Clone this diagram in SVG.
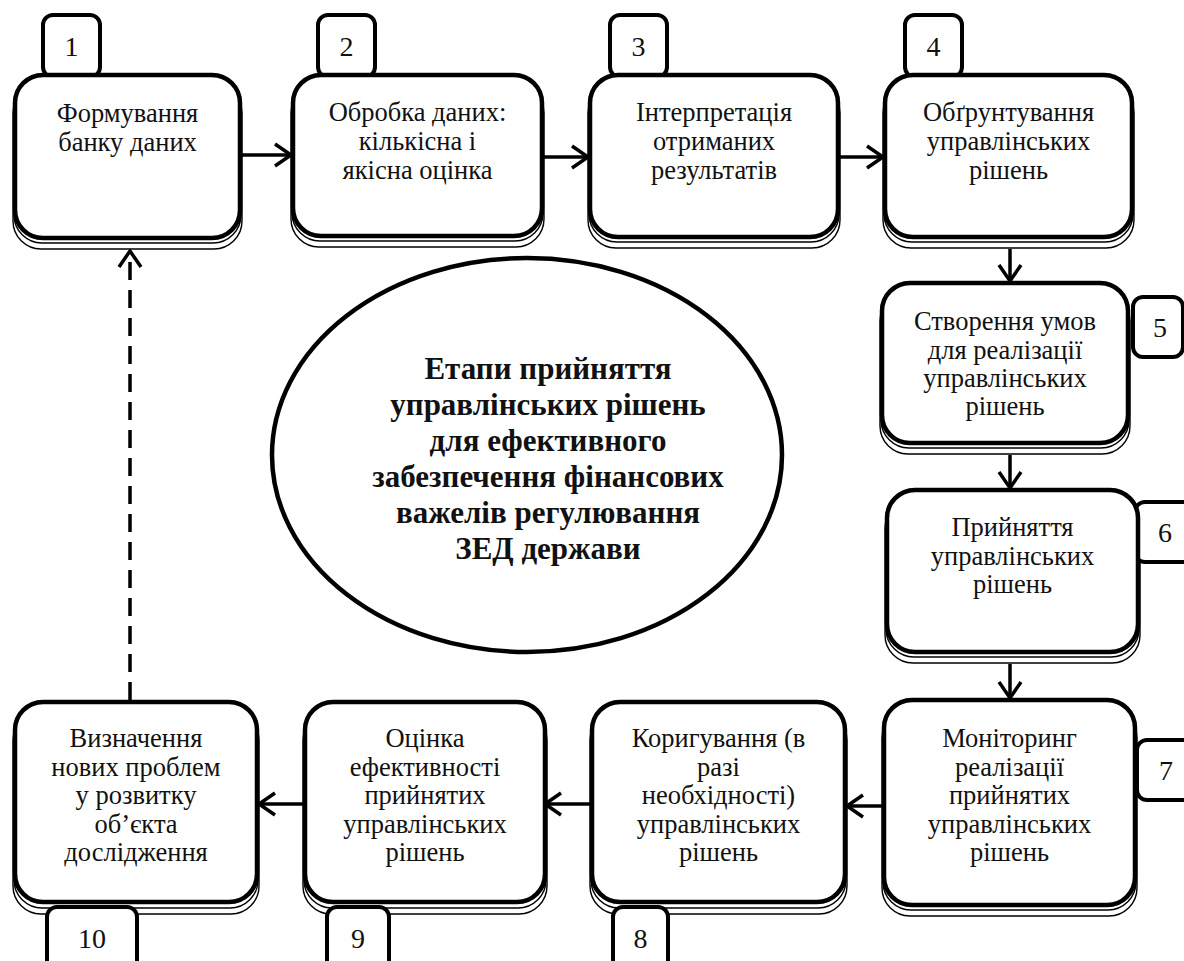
<svg xmlns="http://www.w3.org/2000/svg" width="1184" height="961" viewBox="0 0 1184 961">
  <style>
    .main { fill: #fff; stroke: #000; stroke-width: 4.5; }
    .back { fill: #fff; stroke: #000; stroke-width: 1.4; }
    .tab { fill: #fff; stroke: #000; stroke-width: 4; }
    text { font-family: 'Liberation Serif', 'Times New Roman', serif; fill: #111; text-anchor: middle; }
    .lbl { font-size: 26.5px; }
    .num { font-size: 28px; }
    .title { font-size: 31px; font-weight: bold; }
    .link { fill: none; stroke: #000; stroke-width: 3.5; }
    .dash { stroke-dasharray: 18 10; }
  </style>
  <defs>
    <marker id="chev" markerUnits="userSpaceOnUse" markerWidth="30" markerHeight="30" viewBox="-20 -15 24 30" refX="0" refY="0" orient="auto" overflow="visible">
      <path d="M-16,-11 L0,0 L-16,11" fill="none" stroke="#000" stroke-width="3.5" stroke-linejoin="miter"/>
    </marker>
  </defs>
  <rect width="1184" height="961" fill="#fff"/>

  <!-- central ellipse -->
  <g id="center">
    <ellipse cx="527" cy="455" rx="255" ry="197" fill="#fff" stroke="#000" stroke-width="4.5"/>
    <text class="title" x="548" y="379">Етапи прийняття</text>
    <text class="title" x="548" y="415">управлінських рішень</text>
    <text class="title" x="548" y="451">для ефективного</text>
    <text class="title" x="548" y="487">забезпечення фінансових</text>
    <text class="title" x="548" y="523">важелів регулювання</text>
    <text class="title" x="548" y="559">ЗЕД держави</text>
  </g>

  <!-- connectors -->
  <g id="connectors">
    <path class="link" d="M242,155 L291,155" marker-end="url(#chev)"/>
    <path class="link" d="M544,157 L588,157" marker-end="url(#chev)"/>
    <path class="link" d="M840,157 L883,157" marker-end="url(#chev)"/>
    <path class="link" d="M1010,249 L1010,281" marker-end="url(#chev)"/>
    <path class="link" d="M1010,455 L1010,488" marker-end="url(#chev)"/>
    <path class="link" d="M1010,664 L1010,698" marker-end="url(#chev)"/>
    <path class="link" d="M884,806 L847,806" marker-end="url(#chev)"/>
    <path class="link" d="M592,804 L545,804" marker-end="url(#chev)"/>
    <path class="link" d="M305,804 L259,804" marker-end="url(#chev)"/>
    <path class="link dash" d="M130,700 L130,251" marker-end="url(#chev)"/>
  </g>

  <!-- stage 1 -->
  <g id="n1">
    <rect class="back" x="13" y="85" width="229" height="164" rx="28"/>
    <rect class="back" x="14" y="80" width="227" height="163" rx="28"/>
    <rect class="tab" x="43" y="15" width="57" height="62" rx="10"/>
    <rect class="main" x="15" y="75" width="225" height="163" rx="28"/>
    <text class="num" x="71.5" y="56">1</text>
    <text class="lbl" x="127.5" y="122">Формування</text>
    <text class="lbl" x="127.5" y="151">банку даних</text>
  </g>

  <!-- stage 2 -->
  <g id="n2">
    <rect class="back" x="291" y="85" width="253" height="162" rx="28"/>
    <rect class="back" x="292" y="80" width="251" height="161" rx="28"/>
    <rect class="tab" x="318" y="15" width="57" height="62" rx="10"/>
    <rect class="main" x="293" y="75" width="249" height="161" rx="28"/>
    <text class="num" x="346.5" y="56">2</text>
    <text class="lbl" x="417.5" y="121">Обробка даних:</text>
    <text class="lbl" x="417.5" y="150">кількісна і</text>
    <text class="lbl" x="417.5" y="179">якісна оцінка</text>
  </g>

  <!-- stage 3 -->
  <g id="n3">
    <rect class="back" x="588" y="85" width="252" height="163" rx="28"/>
    <rect class="back" x="589" y="80" width="250" height="162" rx="28"/>
    <rect class="tab" x="610" y="15" width="57" height="62" rx="10"/>
    <rect class="main" x="590" y="75" width="248" height="162" rx="28"/>
    <text class="num" x="638.5" y="56">3</text>
    <text class="lbl" x="714" y="121">Інтерпретація</text>
    <text class="lbl" x="714" y="150">отриманих</text>
    <text class="lbl" x="714" y="179">результатів</text>
  </g>

  <!-- stage 4 -->
  <g id="n4">
    <rect class="back" x="883" y="85" width="251" height="163" rx="28"/>
    <rect class="back" x="884" y="80" width="249" height="162" rx="28"/>
    <rect class="tab" x="905" y="15" width="57" height="62" rx="10"/>
    <rect class="main" x="885" y="75" width="247" height="162" rx="28"/>
    <text class="num" x="933.5" y="56">4</text>
    <text class="lbl" x="1008.5" y="121">Обґрунтування</text>
    <text class="lbl" x="1008.5" y="150">управлінських</text>
    <text class="lbl" x="1008.5" y="179">рішень</text>
  </g>

  <!-- stage 5 -->
  <g id="n5">
    <rect class="back" x="880" y="293" width="250" height="161" rx="28"/>
    <rect class="back" x="881" y="288" width="248" height="160" rx="28"/>
    <rect class="tab" x="1133" y="297" width="50" height="60" rx="10"/>
    <rect class="main" x="882" y="283" width="246" height="160" rx="28"/>
    <text class="num" x="1160" y="337">5</text>
    <text class="lbl" x="1005" y="330">Створення умов</text>
    <text class="lbl" x="1005" y="359">для реалізації</text>
    <text class="lbl" x="1005" y="387">управлінських</text>
    <text class="lbl" x="1005" y="415">рішень</text>
  </g>

  <!-- stage 6 -->
  <g id="n6">
    <rect class="back" x="885" y="500" width="255" height="163" rx="28"/>
    <rect class="back" x="886" y="495" width="253" height="162" rx="28"/>
    <rect class="tab" x="1135" y="502" width="60" height="60" rx="10"/>
    <rect class="main" x="887" y="490" width="251" height="162" rx="28"/>
    <text class="num" x="1165" y="542">6</text>
    <text class="lbl" x="1012.5" y="536">Прийняття</text>
    <text class="lbl" x="1012.5" y="565">управлінських</text>
    <text class="lbl" x="1012.5" y="593">рішень</text>
  </g>

  <!-- stage 7 -->
  <g id="n7">
    <rect class="back" x="882" y="710" width="255" height="206" rx="28"/>
    <rect class="back" x="883" y="705" width="253" height="205" rx="28"/>
    <rect class="tab" x="1137" y="740" width="60" height="60" rx="10"/>
    <rect class="main" x="884" y="700" width="251" height="205" rx="28"/>
    <text class="num" x="1166" y="780">7</text>
    <text class="lbl" x="1009.5" y="747">Моніторинг</text>
    <text class="lbl" x="1009.5" y="776">реалізації</text>
    <text class="lbl" x="1009.5" y="804">прийнятих</text>
    <text class="lbl" x="1009.5" y="833">управлінських</text>
    <text class="lbl" x="1009.5" y="861">рішень</text>
  </g>

  <!-- stage 8 -->
  <g id="n8">
    <rect class="back" x="590" y="712" width="257" height="202" rx="28"/>
    <rect class="back" x="591" y="707" width="255" height="201" rx="28"/>
    <rect class="tab" x="613" y="907" width="55" height="70" rx="10"/>
    <rect class="main" x="592" y="702" width="253" height="200" rx="28"/>
    <text class="num" x="640.5" y="948">8</text>
    <text class="lbl" x="718.5" y="747">Коригування (в</text>
    <text class="lbl" x="718.5" y="776">разі</text>
    <text class="lbl" x="718.5" y="804">необхідності)</text>
    <text class="lbl" x="718.5" y="833">управлінських</text>
    <text class="lbl" x="718.5" y="861">рішень</text>
  </g>

  <!-- stage 9 -->
  <g id="n9">
    <rect class="back" x="303" y="712" width="244" height="202" rx="28"/>
    <rect class="back" x="304" y="707" width="242" height="201" rx="28"/>
    <rect class="tab" x="327" y="907" width="62" height="70" rx="10"/>
    <rect class="main" x="305" y="702" width="240" height="200" rx="28"/>
    <text class="num" x="358" y="948">9</text>
    <text class="lbl" x="425" y="747">Оцінка</text>
    <text class="lbl" x="425" y="776">ефективності</text>
    <text class="lbl" x="425" y="804">прийнятих</text>
    <text class="lbl" x="425" y="833">управлінських</text>
    <text class="lbl" x="425" y="861">рішень</text>
  </g>

  <!-- stage 10 -->
  <g id="n10">
    <rect class="back" x="13" y="712" width="246" height="202" rx="28"/>
    <rect class="back" x="14" y="707" width="244" height="201" rx="28"/>
    <rect class="tab" x="47" y="907" width="90" height="70" rx="10"/>
    <rect class="main" x="15" y="702" width="242" height="200" rx="28"/>
    <text class="num" x="92" y="948">10</text>
    <text class="lbl" x="136" y="747">Визначення</text>
    <text class="lbl" x="136" y="776">нових проблем</text>
    <text class="lbl" x="136" y="804">у розвитку</text>
    <text class="lbl" x="136" y="833">об’єкта</text>
    <text class="lbl" x="136" y="861">дослідження</text>
  </g>
</svg>
